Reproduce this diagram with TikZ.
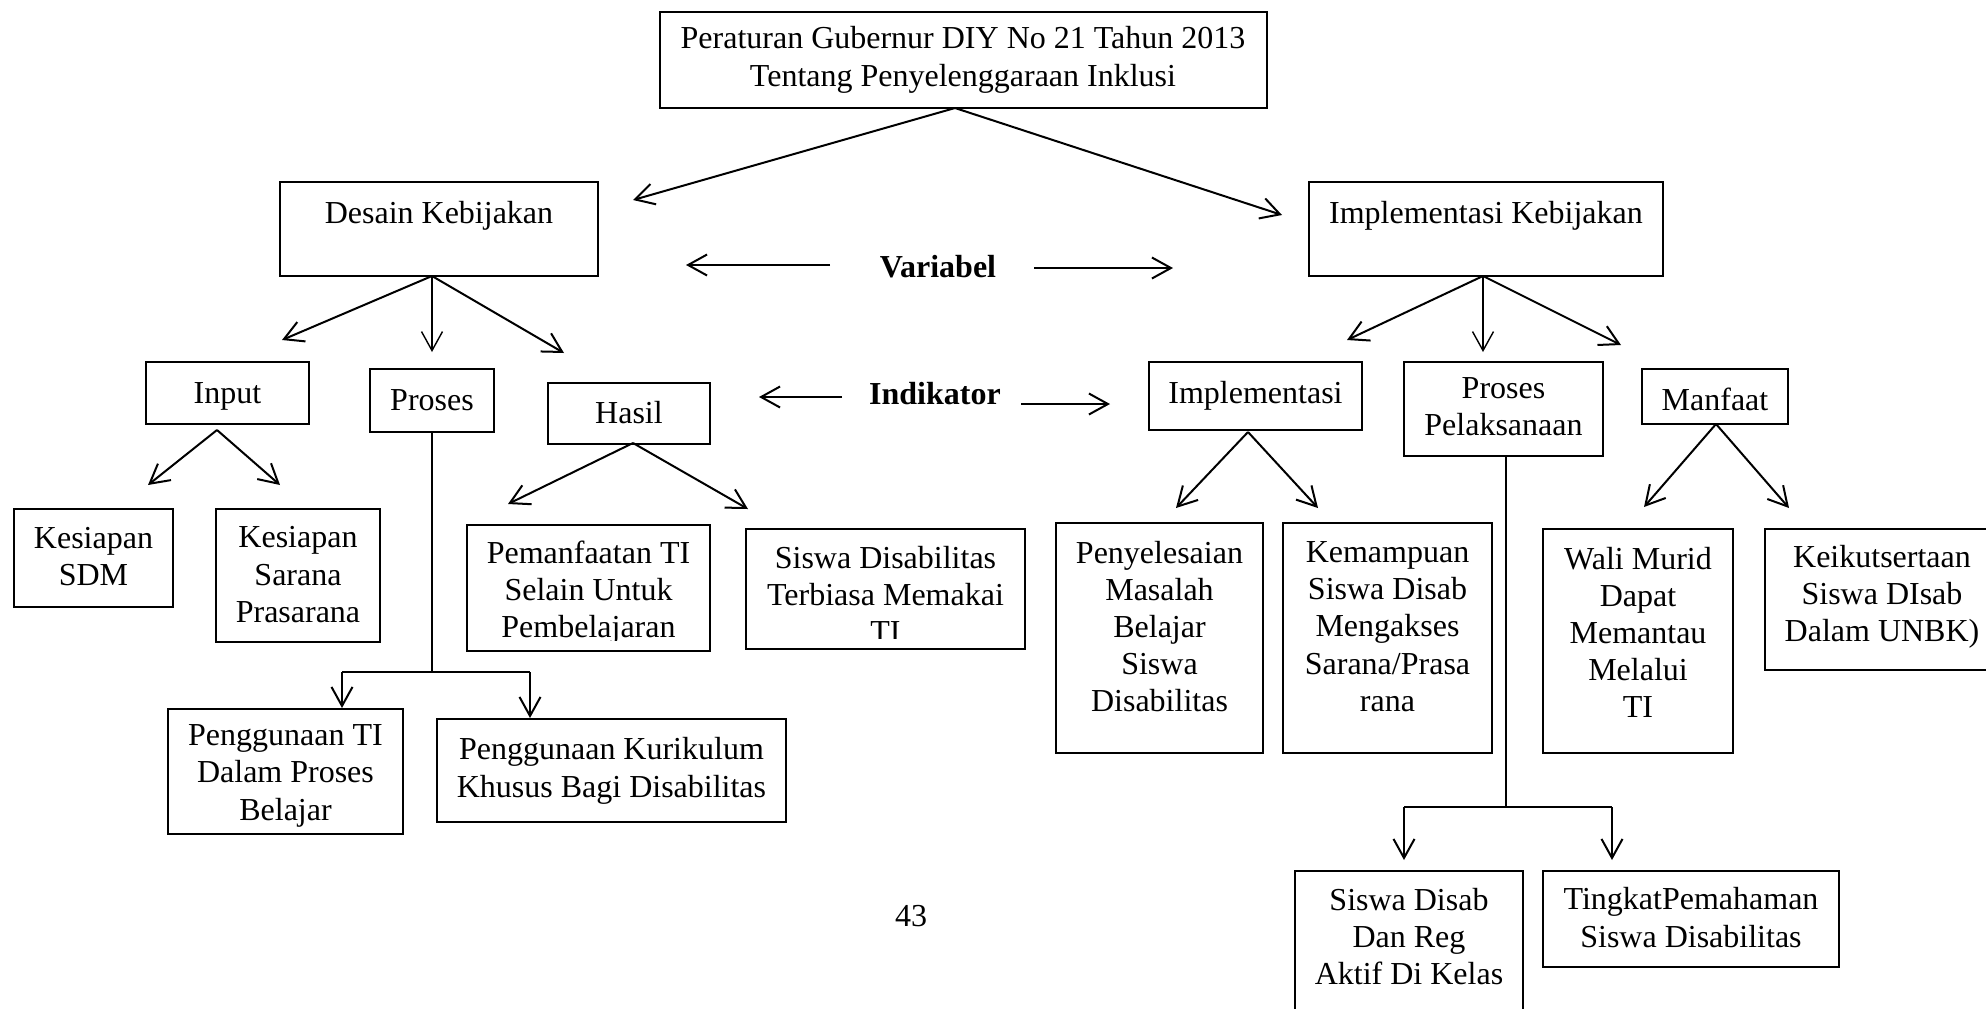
\documentclass[tikz,border=0pt]{standalone}
\usepackage{fontspec}
\setmainfont{Liberation Serif}
\usetikzlibrary{arrows.meta}
\newcommand\mkbox[5]{\node[box, minimum width={(#4-#2)*0.5pt}, minimum height={(#5-#3)*0.5pt}] (#1) at (#2,#3) {};}
\begin{document}
\begin{tikzpicture}[x=0.5pt,y=-0.5pt,
  box/.style={draw, line width=0.65pt, inner sep=0pt, outer sep=0pt, anchor=north west},
  txt/.style={align=center, inner sep=0pt, font=\fontsize{16}{18.6}\selectfont, execute at begin node=\strut, execute at end node=\strut},
  btxt/.style={txt, font=\fontsize{16}{18.6}\selectfont\bfseries},
  arr/.style={line width=1pt, -{Straight Barb[length=9.5pt,width=10.5pt]}},
  tarr/.style={line width=0.7pt, -{Straight Barb[length=9.5pt,width=10.5pt]}},
  stem/.style={line width=0.7pt},
  bar/.style={line width=1pt}]
\useasboundingbox (0,0) rectangle (1986,1008);
\clip (0,0) rectangle (1986,1008);

% level 0
\mkbox{top}{660}{12}{1267}{108}
\node[txt] (top-t) at (963,62) {Peraturan Gubernur DIY No 21 Tahun 2013\\Tentang Penyelenggaraan Inklusi};

% level 1
\mkbox{desain}{280}{182}{598}{276}
\node[txt] (desain-t) at (439,216) {Desain Kebijakan};
\mkbox{implkeb}{1309}{182}{1663}{276}
\node[txt] (implkeb-t) at (1486,216) {Implementasi Kebijakan};
\node[btxt] (variabel) at (938,270) {Variabel};
\node[btxt] (indikator) at (935,397) {Indikator};

% level 2
\mkbox{input}{146}{362}{309}{424}
\node[txt] (input-t) at (227.5,396) {Input};
\mkbox{proses}{370}{369}{494}{432}
\node[txt] (proses-t) at (432,403) {Proses};
\mkbox{hasil}{548}{383}{710}{444}
\node[txt] (hasil-t) at (629,416) {Hasil};
\mkbox{impl}{1149}{362}{1362}{430}
\node[txt] (impl-t) at (1255.5,396) {Implementasi};
\mkbox{prospel}{1404}{362}{1603}{456}
\node[txt] (prospel-t) at (1503.5,412) {Proses\\Pelaksanaan};
\mkbox{manfaat}{1642}{369}{1788}{424}
\node[txt] (manfaat-t) at (1715,403) {Manfaat};

% level 3
\mkbox{ksdm}{14}{509}{173}{607}
\node[txt] (ksdm-t) at (93.5,562) {Kesiapan\\SDM};
\mkbox{ksp}{216}{509}{380}{642}
\node[txt] (ksp-t) at (298,580) {Kesiapan\\Sarana\\Prasarana};
\mkbox{pemanf}{467}{525}{710}{651}
\begin{scope}
\clip (467,525) rectangle (710,640);
\node[txt] (pemanf-t) at (588.5,595) {Pemanfaatan TI\\Selain Untuk\\Pembelajaran};
\end{scope}
\mkbox{sdterb}{746}{529}{1025}{649}
\begin{scope}
\clip (746,529) rectangle (1025,638);
\node[txt] (sdterb-t) at (885.5,600) {Siswa Disabilitas\\Terbiasa Memakai\\TI};
\end{scope}
\mkbox{pengti}{168}{709}{403}{834}
\node[txt] (pengti-t) at (285.5,778) {Penggunaan TI\\Dalam Proses\\Belajar};
\mkbox{kurik}{437}{719}{786}{822}
\node[txt] (kurik-t) at (611.5,773) {Penggunaan Kurikulum\\Khusus Bagi Disabilitas};
\mkbox{penyel}{1056}{523}{1263}{753}
\node[txt] (penyel-t) at (1159.5,632) {Penyelesaian\\Masalah\\Belajar\\Siswa\\Disabilitas};
\mkbox{kemamp}{1283}{523}{1492}{753}
\node[txt] (kemamp-t) at (1387.5,632) {Kemampuan\\Siswa Disab\\Mengakses\\Sarana/Prasa\\rana};
\mkbox{wali}{1543}{529}{1733}{753}
\node[txt] (wali-t) at (1638,638) {Wali Murid\\Dapat\\Memantau\\Melalui\\TI};
\mkbox{keikut}{1765}{529}{2000}{670}
\node[txt] (keikut-t) at (1882,599) {Keikutsertaan\\Siswa DIsab\\Dalam UNBK)};
\mkbox{sdreg}{1295}{871}{1523}{1030}
\node[txt] (sdreg-t) at (1409,942) {Siswa Disab\\Dan Reg\\Aktif Di Kelas};
\mkbox{tingkat}{1543}{871}{1839}{967}
\node[txt] (tingkat-t) at (1691,923) {TingkatPemahaman\\Siswa Disabilitas};
\node[txt] (pagenum) at (911,919) {43};

% connector points
\coordinate (top-o) at (955,108);
\coordinate (desain-tip) at (633,200);
\coordinate (implkeb-tip) at (1282,215);
\coordinate (desain-o) at (432,276);
\coordinate (input-tip) at (282,340);
\coordinate (proses-tip) at (432,352);
\coordinate (hasil-tip) at (564,353);
\coordinate (implkeb-o) at (1483,276);
\coordinate (impl-tip) at (1347,340);
\coordinate (prospel-tip) at (1483,352);
\coordinate (manfaat-tip) at (1621,345);
\coordinate (var-l0) at (830,265);
\coordinate (var-l1) at (686,265);
\coordinate (var-r0) at (1034,268);
\coordinate (var-r1) at (1173,268);
\coordinate (ind-l0) at (842,397);
\coordinate (ind-l1) at (759,397);
\coordinate (ind-r0) at (1021,404);
\coordinate (ind-r1) at (1110,404);
\coordinate (input-o) at (217,430);
\coordinate (ksdm-tip) at (148,485);
\coordinate (ksp-tip) at (280,485);
\coordinate (hasil-o) at (633,443);
\coordinate (pemanf-tip) at (508,504);
\coordinate (sdterb-tip) at (748,509);
\coordinate (impl-o) at (1248,432);
\coordinate (penyel-tip) at (1176,508);
\coordinate (kemamp-tip) at (1318,508);
\coordinate (manfaat-o) at (1716,424);
\coordinate (wali-tip) at (1644,507);
\coordinate (keikut-tip) at (1789,508);
\coordinate (pb) at (432,672);
\coordinate (pbl) at (342,672);
\coordinate (pbr) at (530,672);
\coordinate (pengti-tip) at (342,708);
\coordinate (kurik-tip) at (530,718);
\coordinate (prospel-o) at (1506,456);
\coordinate (qb) at (1506,807);
\coordinate (qbl) at (1404,807);
\coordinate (qbr) at (1612,807);
\coordinate (sdreg-tip) at (1404,860);
\coordinate (tingkat-tip) at (1612,860);

% connectors
\draw[arr] (top-o) -- (desain-tip);
\draw[arr] (top-o) -- (implkeb-tip);
\draw[arr] (desain-o) -- (input-tip);
\draw[tarr] (desain-o) -- (proses-tip);
\draw[arr] (desain-o) -- (hasil-tip);
\draw[arr] (implkeb-o) -- (impl-tip);
\draw[tarr] (implkeb-o) -- (prospel-tip);
\draw[arr] (implkeb-o) -- (manfaat-tip);
\draw[arr] (var-l0) -- (var-l1);
\draw[arr] (var-r0) -- (var-r1);
\draw[arr] (ind-l0) -- (ind-l1);
\draw[arr] (ind-r0) -- (ind-r1);
\draw[arr] (input-o) -- (ksdm-tip);
\draw[arr] (input-o) -- (ksp-tip);
\draw[arr] (hasil-o) -- (pemanf-tip);
\draw[arr] (hasil-o) -- (sdterb-tip);
\draw[arr] (impl-o) -- (penyel-tip);
\draw[arr] (impl-o) -- (kemamp-tip);
\draw[arr] (manfaat-o) -- (wali-tip);
\draw[arr] (manfaat-o) -- (keikut-tip);
\draw[stem] (proses.south) -- (pb);
\draw[bar] (pbl) -- (pbr);
\draw[arr] (pbl) -- (pengti-tip);
\draw[arr] (pbr) -- (kurik-tip);
\draw[stem] (prospel-o) -- (qb);
\draw[bar] (qbl) -- (qbr);
\draw[arr] (qbl) -- (sdreg-tip);
\draw[arr] (qbr) -- (tingkat-tip);
\end{tikzpicture}
\end{document}
